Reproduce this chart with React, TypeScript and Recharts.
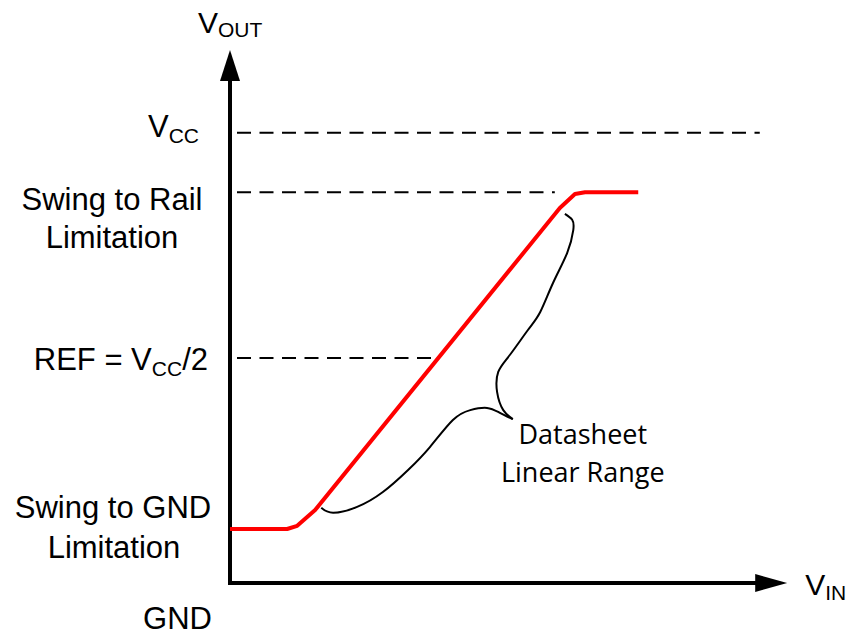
import React from 'react';
import { ComposedChart, Line, XAxis, YAxis, ReferenceLine, ReferenceDot } from 'recharts';

// Vout levels (GND = 0, VCC = 100) and Vin range 0..100
const levelValues = [0, 12, 50, 86.8, 100];
const Y_MAX = 118.4;
const X_MAX = 100;

// Transfer curve (red)
const vinPts = [0, 10.2, 12.0, 15.2, 58.9, 61.6, 63.4, 72.9];
const voutPts = [12.0, 12.0, 12.7, 16.2, 83.3, 86.4, 86.8, 86.8];

// Curly brace, lower half (from lower end to tip) and upper half (tip to upper end)
const braceLowX = [16.3, 18.4, 22.7, 27.3, 31.8, 35.7, 39.8, 42.9, 45.9, 48.2, 50.5];
const braceLowY = [16.7, 15.6, 16.9, 20.2, 25.1, 30.2, 36.2, 38.4, 38.9, 37.8, 36.4];
const braceUpX = [50.5, 48.8, 47.7, 47.9, 50.0, 53.2, 55.4, 57.7, 60.2, 61.3, 61.1, 59.8];
const braceUpY = [36.4, 38.4, 42.4, 46.9, 50.7, 56.2, 60.2, 66.7, 73.3, 78.4, 80.7, 82.0];

// dashed guide lines: level and where the dashes stop on the Vin axis
const guideLevels = [100, 86.8, 50];
const guideEnds = [94.6, 58.0, 37.0];
const GUIDE_START = 1.25;

const toPoints = (xs: number[], ys: number[]) => xs.map((x, i) => ({ x, y: ys[i] }));
const curve = toPoints(vinPts, voutPts);
const braceLow = toPoints(braceLowX, braceLowY);
const braceUp = toPoints(braceUpX, braceUpY);

const FONT = '"Liberation Sans", Arial, sans-serif';
const big = { fontFamily: FONT, fontSize: 31, fill: '#000' };
const SUB = 21;

const LevelTick = (props: any) => {
  const { x, y, payload } = props;
  const v = payload.value;
  if (v === 100) {
    return (
      <text x={x - 31} y={y + 4} textAnchor="end" {...big}>
        V<tspan fontSize={SUB} dy={6}>CC</tspan>
      </text>
    );
  }
  if (v === 86.8) {
    return (
      <g>
        <text x={x - 118} y={y + 18} textAnchor="middle" {...big}>Swing to Rail</text>
        <text x={x - 118} y={y + 56} textAnchor="middle" {...big}>Limitation</text>
      </g>
    );
  }
  if (v === 50) {
    return (
      <text x={x - 22} y={y + 12} textAnchor="end" {...big}>
        REF = V<tspan fontSize={SUB} dy={6}>CC</tspan>
        <tspan dy={-6}>/2</tspan>
      </text>
    );
  }
  if (v === 12) {
    return (
      <g>
        <text x={x - 117} y={y - 11} textAnchor="middle" {...big}>Swing to GND</text>
        <text x={x - 116} y={y + 29} textAnchor="middle" {...big}>Limitation</text>
      </g>
    );
  }
  return (
    <text x={x - 18} y={y + 46} textAnchor="end" {...big}>GND</text>
  );
};

const UpArrow = (props: any) => {
  const { cx, cy } = props;
  return (
    <g>
      <polygon points={`${cx},${cy} ${cx - 10},${cy + 31} ${cx + 10},${cy + 31}`} fill="#000" />
      <text x={cx - 32} y={cy - 17} {...big} fontSize={30}>
        V<tspan fontSize={SUB} dy={4}>OUT</tspan>
      </text>
    </g>
  );
};

const RightArrow = (props: any) => {
  const { cx, cy } = props;
  return (
    <g>
      <polygon points={`${cx},${cy} ${cx - 32},${cy - 9} ${cx - 32},${cy + 9}`} fill="#000" />
      <text x={cx + 18} y={cy + 12} {...big} fontSize={30}>
        V<tspan fontSize={SUB} dy={5}>IN</tspan>
      </text>
    </g>
  );
};

const BraceNote = (props: any) => {
  const { cx, cy } = props;
  const f = { fontFamily: '"Open Sans", sans-serif', fontSize: 27, fill: '#000', textAnchor: 'middle' as const };
  return (
    <g>
      <text x={cx + 70} y={cy + 25} {...f}>Datasheet</text>
      <text x={cx + 70} y={cy + 63} {...f}>Linear Range</text>
    </g>
  );
};

const App: React.FC = () => {
  return (
    <div style={{ width: 847, height: 637, background: '#fff' }}>
      <style>{`body{margin:0;}`}</style>
      <ComposedChart width={847} height={637} margin={{ top: 50, right: 57, bottom: 0, left: 0 }}>
        <XAxis
          dataKey="x"
          type="number"
          domain={[0, X_MAX]}
          height={54}
          axisLine={false}
          tickLine={false}
          tick={false}
        />
        <YAxis
          type="number"
          domain={[0, Y_MAX]}
          width={230}
          ticks={levelValues}
          interval={0}
          axisLine={false}
          tickLine={false}
          tickSize={0}
          tickMargin={0}
          tick={<LevelTick />}
        />

        {guideLevels.map((lv, i) => (
          <ReferenceLine
            key={`guide-${i}`}
            segment={[{ x: GUIDE_START, y: lv }, { x: guideEnds[i], y: lv }]}
            stroke="#000"
            strokeWidth={2}
            strokeDasharray="14 8.5"
          />
        ))}

        {/* axes */}
        <ReferenceLine segment={[{ x: 0, y: 0 }, { x: 0, y: 112 }]} stroke="#000" strokeWidth={4} strokeLinecap="square" />
        <ReferenceLine segment={[{ x: 0, y: 0 }, { x: 95, y: 0 }]} stroke="#000" strokeWidth={4} strokeLinecap="square" />
        <ReferenceDot x={0} y={Y_MAX} r={0} shape={<UpArrow />} />
        <ReferenceDot x={99.5} y={0} r={0} shape={<RightArrow />} />

        <Line
          data={braceLow}
          dataKey="y"
          type="natural"
          stroke="#000"
          strokeWidth={2}
          dot={false}
          isAnimationActive={false}
        />
        <Line
          data={braceUp}
          dataKey="y"
          type="natural"
          stroke="#000"
          strokeWidth={2}
          dot={false}
          isAnimationActive={false}
        />
        <Line
          data={curve}
          dataKey="y"
          type="linear"
          stroke="#ff0000"
          strokeWidth={4}
          strokeLinejoin="round"
          dot={false}
          isAnimationActive={false}
        />
        <ReferenceDot x={braceLowX[braceLowX.length - 1]} y={braceLowY[braceLowY.length - 1]} r={0} shape={<BraceNote />} />
      </ComposedChart>
    </div>
  );
};

export default App;
